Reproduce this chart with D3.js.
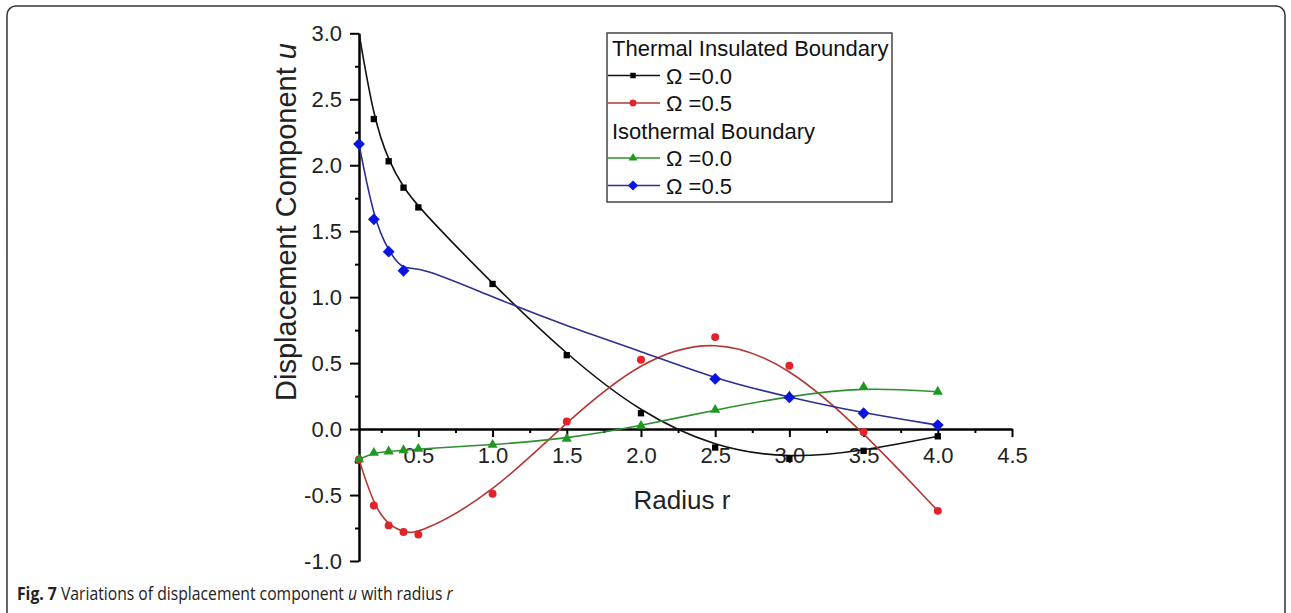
<!DOCTYPE html>
<html>
<head>
<meta charset="utf-8">
<script src="https://cdnjs.cloudflare.com/ajax/libs/d3/7.8.5/d3.min.js"></script>
<style>
  body { margin: 0; background: #fff; }
  .axis path, .axis line { stroke: #000; stroke-width: 2; }
  .axis text { font-family: "Liberation Sans", Arial, sans-serif; font-size: 22px; fill: #222; }
</style>
</head>
<body>
<div id="chart"></div>
<script>
// data
var radius = [0.1, 0.2, 0.3, 0.4, 0.5, 1.0, 1.5, 2.0, 2.5, 3.0, 3.5, 4.0];
var insulatedOmega00 = [3.0, 2.35, 2.03, 1.83, 1.68, 1.10, 0.56, 0.12, -0.14, -0.225, -0.165, -0.055];
var insulatedOmega05 = [-0.23, -0.58, -0.73, -0.78, -0.80, -0.49, 0.058, 0.525, 0.697, 0.48, -0.023, -0.62];
var isothermalOmega00 = [-0.23, -0.18, -0.17, -0.16, -0.15, -0.12, -0.073, 0.025, 0.146, 0.25, 0.318, 0.283];
var isothermalOmega05 = [2.16, 1.59, 1.345, 1.20, 1.24, 1.0, 0.78, 0.59, 0.38, 0.24, 0.12, 0.03];
// radii that carry a symbol (the others are only on the curve)
var insulatedOmega00Marked = [0.2, 0.3, 0.4, 0.5, 1.0, 1.5, 2.0, 2.5, 3.0, 3.5, 4.0];
var isothermalOmega05Marked = [0.1, 0.2, 0.3, 0.4, 2.5, 3.0, 3.5, 4.0];

var xMajor = [0.5, 1.0, 1.5, 2.0, 2.5, 3.0, 3.5, 4.0, 4.5];
var xMinor = [0.25, 0.75, 1.25, 1.75, 2.25, 2.75, 3.25, 3.75, 4.25];
var yMajor = [-1.0, -0.5, 0.0, 0.5, 1.0, 1.5, 2.0, 2.5, 3.0];
var yMinor = [-0.75, -0.25, 0.25, 0.75, 1.25, 1.75, 2.25, 2.75];

var svgWidth = 1291, svgHeight = 613;

var svg = d3.select("#chart").append("svg")
    .attr("width", svgWidth)
    .attr("height", svgHeight);

// frame round the figure
svg.append("rect")
    .attr("x", 7).attr("y", 6)
    .attr("width", 1278).attr("height", 620)
    .attr("rx", 9)
    .attr("fill", "none")
    .attr("stroke", "#333")
    .attr("stroke-width", 1.5);

var x = d3.scaleLinear().domain([0.1, 4.5]).range([359, 1012]);
var y = d3.scaleLinear().domain([-1, 3]).range([561, 33.3]);

var fmt = function(d) { return d3.format(".1f")(d).replace("\u2212", "-"); }; // plain hyphen like the figure

// axes
svg.append("g").attr("class", "axis")
    .attr("transform", "translate(0," + y(0) + ")")
    .call(d3.axisBottom(x).tickValues(xMinor).tickSize(4).tickSizeOuter(0).tickFormat(""));
svg.append("g").attr("class", "axis")
    .attr("transform", "translate(0," + y(0) + ")")
    .call(d3.axisBottom(x).tickValues(xMajor).tickSize(8).tickSizeOuter(0).tickPadding(10).tickFormat(fmt));
svg.append("g").attr("class", "axis")
    .attr("transform", "translate(" + x(0.1) + ",0)")
    .call(d3.axisLeft(y).tickValues(yMinor).tickSize(4).tickSizeOuter(0).tickFormat(""));
svg.append("g").attr("class", "axis")
    .attr("transform", "translate(" + x(0.1) + ",0)")
    .call(d3.axisLeft(y).tickValues(yMajor).tickSize(9).tickSizeOuter(0).tickPadding(8).tickFormat(fmt));

// axis titles
svg.append("text")
    .attr("transform", "translate(296,222) rotate(-90)")
    .attr("text-anchor", "middle")
    .style("font-family", "Liberation Sans, Arial, sans-serif")
    .style("font-size", "29px")
    .attr("fill", "#222")
    .html("Displacement Component <tspan font-style='italic'>u</tspan>");

svg.append("text")
    .attr("x", 682).attr("y", 509)
    .attr("text-anchor", "middle")
    .style("font-family", "Liberation Sans, Arial, sans-serif")
    .style("font-size", "26px")
    .attr("fill", "#222")
    .text("Radius r");

var diamond = {
    draw: function(context, size) { // square turned by 45 degrees
        var h = Math.sqrt(size / 2);
        context.moveTo(0, -h);
        context.lineTo(h, 0);
        context.lineTo(0, h);
        context.lineTo(-h, 0);
        context.closePath();
    }
};

var series = [
    {values: insulatedOmega00, line: "#111", fill: "#000", symbol: d3.symbolSquare, size: 40, marked: insulatedOmega00Marked},
    {values: insulatedOmega05, line: "#b23a36", fill: "#e3222a", symbol: d3.symbolCircle, size: 50, marked: radius},
    {values: isothermalOmega00, line: "#2f8f2f", fill: "#1e9a22", symbol: d3.symbolTriangle, size: 45, marked: radius},
    {values: isothermalOmega05, line: "#2b2f8f", fill: "#0a14e0", symbol: diamond, size: 70, marked: isothermalOmega05Marked}
];

var line = d3.line()
    .x(function(d) { return x(d.r); })
    .y(function(d) { return y(d.v); })
    .curve(d3.curveBasis);

series.forEach(function(s) {
    var pts = radius.map(function(r, i) { return {r: r, v: s.values[i]}; });
    svg.append("path")
        .datum(pts)
        .attr("d", line)
        .attr("fill", "none")
        .attr("stroke", s.line)
        .attr("stroke-width", 1.6);
    svg.selectAll(null)
        .data(pts.filter(function(p) { return s.marked.indexOf(p.r) >= 0; }))
        .enter().append("path")
        .attr("d", d3.symbol().type(s.symbol).size(s.size))
        .attr("transform", function(d) { return "translate(" + x(d.r) + "," + y(d.v) + ")"; })
        .attr("fill", s.fill);
});

// legend
var legend = svg.append("g");
legend.append("rect")
    .attr("x", 607).attr("y", 33)
    .attr("width", 285).attr("height", 169)
    .attr("fill", "#fff")
    .attr("stroke", "#444")
    .attr("stroke-width", 1.5);

var legendRows = [
    {title: "Thermal Insulated Boundary"},
    {s: series[0], label: "\u03A9 =0.0"},
    {s: series[1], label: "\u03A9 =0.5"},
    {title: "Isothermal Boundary"},
    {s: series[2], label: "\u03A9 =0.0"},
    {s: series[3], label: "\u03A9 =0.5"}
];
legendRows.forEach(function(row, i) {
    var cy = 48 + i * 27.5;
    if (row.title) {
        legend.append("text")
            .attr("x", 612).attr("y", cy + 8)
            .style("font-family", "Liberation Sans, Arial, sans-serif")
            .style("font-size", "22px")
            .attr("fill", "#111")
            .text(row.title);
        return;
    }
    legend.append("line")
        .attr("x1", 608).attr("x2", 660)
        .attr("y1", cy).attr("y2", cy)
        .attr("stroke", row.s.line)
        .attr("stroke-width", 1.6);
    legend.append("path")
        .attr("d", d3.symbol().type(row.s.symbol).size(row.s.size * 0.75))
        .attr("transform", "translate(633," + cy + ")")
        .attr("fill", row.s.fill);
    legend.append("text")
        .attr("x", 666).attr("y", cy + 8)
        .style("font-family", "Liberation Sans, Arial, sans-serif")
        .style("font-size", "22px")
        .attr("fill", "#111")
        .text(row.label);
});

// caption, squeezed sideways to the width of the figure's narrow face
var caption = svg.append("text")
    .attr("x", 0).attr("y", 0)
    .style("font-family", "Open Sans, sans-serif")
    .style("font-size", "17.5px")
    .attr("fill", "#222")
    .html("<tspan font-weight='bold'>Fig. 7</tspan> Variations of displacement component <tspan font-style='italic'>u</tspan> with radius <tspan font-style='italic'>r</tspan>");
var captionWidth = caption.node().getComputedTextLength();
caption.attr("transform", "translate(17,600) scale(" + (436 / captionWidth) + ",1)");
</script>
</body>
</html>
